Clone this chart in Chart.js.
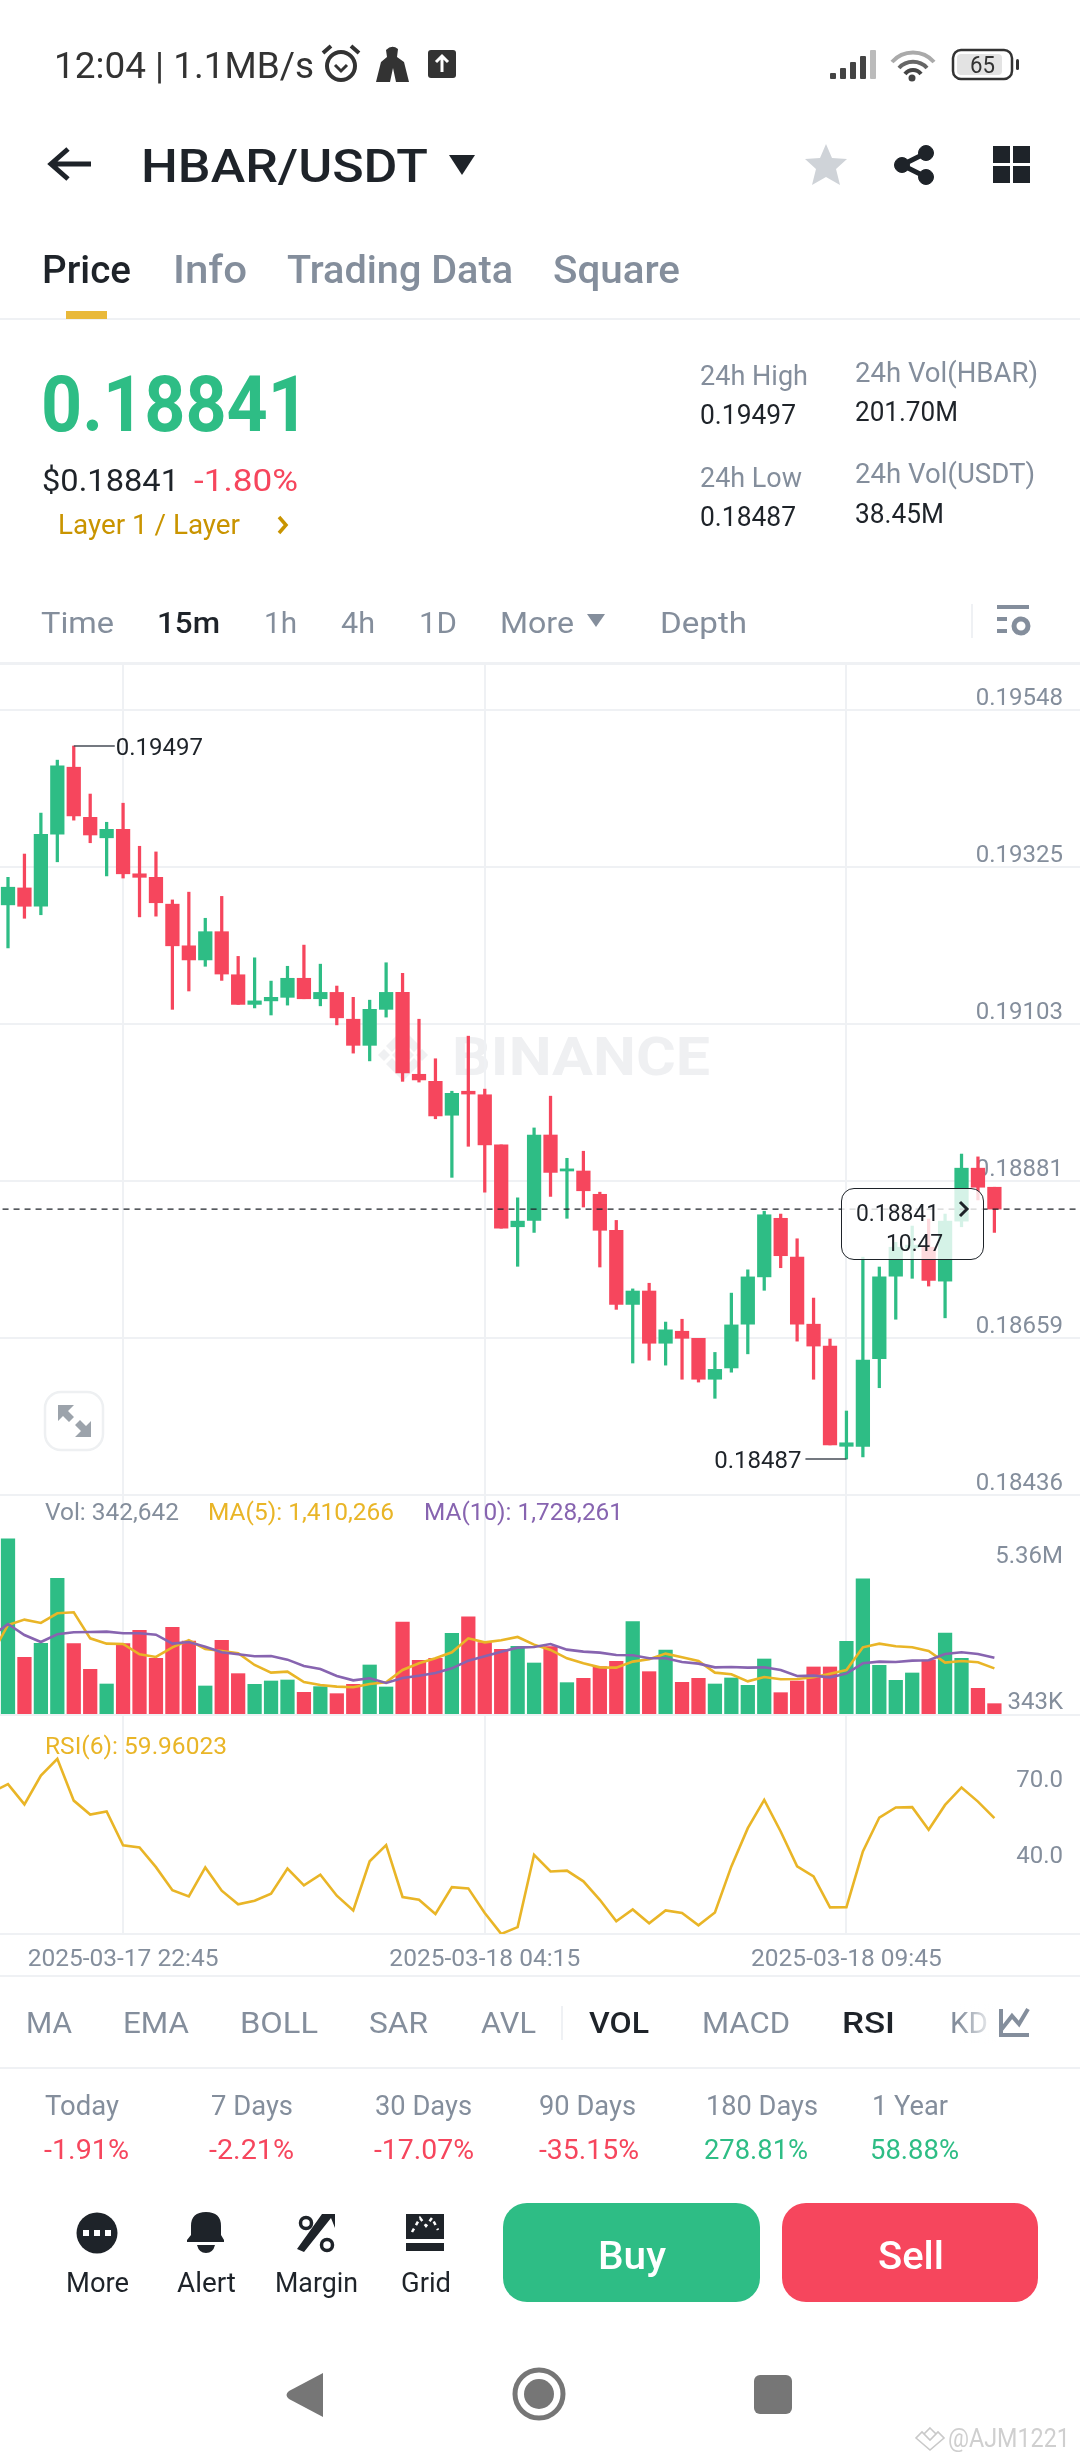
<!DOCTYPE html>
<html>
<head>
<meta charset="utf-8">
<title>HBAR/USDT</title>
<script src="https://cdn.jsdelivr.net/npm/chart.js@4"></script>
<style>
  html, body { margin: 0; padding: 0; background: #fff; }
  #page { position: relative; width: 1080px; height: 2460px; overflow: hidden; font-family: Roboto, sans-serif; }
  canvas { position: absolute; left: 0; z-index: 1; }
  #ui { position: absolute; left: 0; top: 0; z-index: 2; }
  #under { position: absolute; left: 0; top: 0; z-index: 0; }
  .t { position: absolute; white-space: nowrap; line-height: 1; transform-origin: 0 50%; z-index: 3; }
  .under { z-index: 0; }
  #tip { position: absolute; left: 841px; top: 1188px; width: 143px; height: 72px; box-sizing: border-box; z-index: 2;
         border: 1.6px solid #1e2329; border-radius: 13px; background: rgba(255,255,255,0.8); }
</style>
</head>
<body>
<div id="page">
  <svg id="under" width="1080" height="2460">
    <g fill="#eff0f2">
      <polygon points="403,1044 414,1055 403,1066 392,1055"/>
      <polygon points="403,1029 420,1046 414,1052 403,1041 392,1052 386,1046"/>
      <polygon points="403,1081 420,1064 414,1058 403,1069 392,1058 386,1064"/>
      <polygon points="384,1049 390,1055 384,1061 378,1055"/>
      <polygon points="422,1049 428,1055 422,1061 416,1055"/>
    </g>
  </svg>
  <canvas id="priceChart" width="1080" height="833" style="top:664px"></canvas>
  <canvas id="volChart" width="1080" height="220" style="top:1495px"></canvas>
  <canvas id="rsiChart" width="1080" height="261" style="top:1715px"></canvas>
  <div id="tip"></div>
  <svg id="ui" width="1080" height="2460">
    <!-- separators -->
    <g fill="#eff1f4">
      <rect x="0" y="318" width="1080" height="2"/>
      <rect x="0" y="662" width="1080" height="3"/>
      <rect x="0" y="1714" width="1080" height="2"/>
      <rect x="0" y="1975" width="1080" height="2"/>
      <rect x="0" y="2067" width="1080" height="2"/>
      <rect x="971" y="604" width="2" height="34"/>
      <rect x="561" y="2006" width="2" height="34"/>
    </g>
    <!-- status bar -->
    <circle cx="341" cy="66" r="14" fill="none" stroke="#333" stroke-width="4"/>
    <path d="M335 65 L341 71 L347 65" fill="none" stroke="#333" stroke-width="3"/>
    <path d="M323 53 L331 46 M359 53 L351 46" stroke="#333" stroke-width="4"/>
    <path d="M376 82 L381 62 L387 57 L386 50 Q392 44 398 49 L397 57 L404 62 L409 82 L396 82 L393 68 L390 82 Z" fill="#333"/>
    <rect x="428" y="50" width="28" height="28" rx="3" fill="#333"/>
    <path d="M442 72 V57 M436 62 L442 56 L448 62" fill="none" stroke="#fff" stroke-width="3"/>
    <g fill="#444">
      <rect x="830" y="73" width="6" height="6" rx="1"/><rect x="840" y="68" width="6" height="11" rx="1"/>
      <rect x="850" y="62" width="6" height="17" rx="1"/><rect x="860" y="56" width="6" height="23" rx="1"/>
      <rect x="870" y="50" width="6" height="29" rx="1" fill="#bbb"/>
    </g>
    <g fill="none" stroke-width="4">
      <path d="M892 62 A28 28 0 0 1 934 62" stroke="#aaa"/>
      <path d="M899 68 A19 19 0 0 1 927 68" stroke="#666"/>
      <path d="M905 74 A10 10 0 0 1 921 74" stroke="#444"/>
    </g>
    <circle cx="912" cy="78" r="3.5" fill="#444"/>
    <rect x="953" y="50" width="59" height="29" rx="8" fill="none" stroke="#333" stroke-width="2.5"/>
    <rect x="957" y="54" width="45" height="21" rx="4" fill="#e3e3e3"/>
    <rect x="1016" y="59" width="3" height="11" rx="1.5" fill="#333"/>
    <!-- header -->
    <path d="M91 164 H54 M68 149 L51 164 L68 179" fill="none" stroke="#1e2329" stroke-width="5"/>
    <polygon points="449,155 475,155 462,175" fill="#1e2329"/>
    <polygon points="826,144 832,158 847,159 836,169 840,185 826,177 812,185 816,169 805,159 820,158" fill="#cfd3d8"/>
    <g fill="#1e2329" stroke="#1e2329">
      <path d="M926 153 L902 165 L926 177" fill="none" stroke-width="5"/>
      <circle cx="926" cy="153" r="7.5"/><circle cx="902" cy="165" r="7.5"/><circle cx="926" cy="177" r="7.5"/>
    </g>
    <g fill="#1e2329">
      <rect x="993" y="146" width="17" height="17"/><rect x="1013" y="146" width="17" height="17"/>
      <rect x="993" y="166" width="17" height="17"/><rect x="1013" y="166" width="17" height="17"/>
    </g>
    <rect x="66" y="311" width="41" height="8" fill="#e9b93a"/>
    <path d="M279 517 L286 525 L279 533" fill="none" stroke="#c99400" stroke-width="3.5"/>
    <polygon points="587,614 605,614 596,627" fill="#848e9c"/>
    <!-- chart settings icon -->
    <g fill="#848e9c">
      <rect x="997" y="605" width="32" height="4"/><rect x="997" y="617" width="10" height="4"/>
      <rect x="997" y="629" width="10" height="4"/>
    </g>
    <circle cx="1021" cy="626" r="7" fill="none" stroke="#848e9c" stroke-width="5"/>
    <!-- expand button -->
    <rect x="45" y="1392" width="58" height="58" rx="16" fill="#fff" stroke="#eef0f2" stroke-width="2.5"/>
    <g fill="#9ca3ab">
      <polygon points="58,1405 74,1405 68,1411 74,1417 69,1422 63,1416 58,1421"/>
      <polygon points="91,1437 75,1437 81,1431 75,1425 80,1420 86,1426 91,1421"/>
    </g>
    <!-- tooltip chevron -->
    <path d="M960 1202 L967 1209 L960 1216" fill="none" stroke="#1e2329" stroke-width="3"/>
    <!-- indicator row -->
    <path d="M1001 2009 V2035 H1029 M1001 2030 L1012 2016 L1019 2024 L1028 2009" fill="none" stroke="#848e9c" stroke-width="4"/>
    <!-- bottom actions -->
    <ellipse cx="97" cy="2233" rx="20.5" ry="20.5" fill="#1e2329"/>
    <g fill="#fff"><rect x="83" y="2230" width="6" height="6"/><rect x="94" y="2230" width="6" height="6"/><rect x="105" y="2230" width="6" height="6"/></g>
    <path d="M187 2242 V2240 L191 2235 V2226 Q191 2212 206 2212 Q221 2212 221 2226 V2235 L224 2240 V2242 Z M197 2245 H215 Q213 2253 206 2253 Q199 2253 197 2245 Z" fill="#1e2329"/>
    <g fill="none" stroke="#1e2329" stroke-width="3.5">
      <circle cx="306" cy="2223" r="5.5"/><circle cx="327" cy="2245" r="5.5"/>
    </g>
    <polygon points="297,2249 322,2214 335,2214 335,2228 331,2218 304,2252" fill="#1e2329"/>
    <path d="M406 2214 H444 V2239 H406 Z" fill="#1e2329"/>
    <path d="M412 2232 L420 2218 L426 2226 L432 2218 L438 2230" fill="none" stroke="#fff" stroke-width="2.5" stroke-dasharray="4 4"/>
    <rect x="406" y="2243" width="38" height="8" fill="#1e2329"/>
    <rect x="503" y="2203" width="257" height="99" rx="24" fill="#2ebd85"/>
    <rect x="782" y="2203" width="256" height="99" rx="24" fill="#f6465d"/>
    <!-- nav bar -->
    <path d="M323 2373 V2417 L289 2399 Q284 2395 289 2391 Z" fill="#767676"/>
    <circle cx="539" cy="2394" r="24" fill="none" stroke="#767676" stroke-width="5"/>
    <circle cx="539" cy="2394" r="15" fill="#767676"/>
    <rect x="754" y="2375" width="38" height="39" rx="6" fill="#767676"/>
    <path d="M916 2438 L930 2450 L944 2438 L938 2432 L930 2440 L922 2432 Z M930 2428 L936 2434 L930 2440 L924 2434 Z" fill="none" stroke="#c9c9c9" stroke-width="1.6"/>
  </svg>
</div>

<script>
// 15m candles, oldest first
const candleOpen = [
  0.19272, 0.19296, 0.19270, 0.19372, 0.19467, 0.19396, 0.19367, 0.19379, 0.19316, 0.19311,
  0.19273, 0.19214, 0.19194, 0.19234, 0.19173, 0.19131, 0.19136, 0.19141, 0.19168, 0.19139,
  0.19148, 0.19110, 0.19073, 0.19124, 0.19148, 0.19032, 0.19022, 0.18974, 0.19008, 0.19003,
  0.18932, 0.18816, 0.18825, 0.18946, 0.18895, 0.18895, 0.18862, 0.18811, 0.18706, 0.18725,
  0.18651, 0.18668, 0.18658, 0.18600, 0.18616, 0.18678, 0.18745, 0.18828, 0.18773, 0.18678,
  0.18647, 0.18505, 0.18505, 0.18629, 0.18746, 0.18786, 0.18787, 0.18739, 0.18824, 0.18899,
  0.18872,
];
const candleHigh = [
  0.19311, 0.19344, 0.19402, 0.19477, 0.19497, 0.19429, 0.19389, 0.19416, 0.19355, 0.19347,
  0.19279, 0.19290, 0.19253, 0.19284, 0.19199, 0.19197, 0.19164, 0.19185, 0.19215, 0.19188,
  0.19157, 0.19141, 0.19137, 0.19190, 0.19175, 0.19110, 0.19054, 0.19008, 0.19086, 0.19011,
  0.18932, 0.18857, 0.18956, 0.19001, 0.18913, 0.18923, 0.18865, 0.18825, 0.18728, 0.18736,
  0.18681, 0.18685, 0.18658, 0.18638, 0.18722, 0.18755, 0.18838, 0.18834, 0.18799, 0.18715,
  0.18657, 0.18555, 0.18773, 0.18759, 0.18794, 0.18817, 0.18827, 0.18834, 0.18919, 0.18915,
  0.18872,
];
const candleLow = [
  0.19211, 0.19253, 0.19258, 0.19333, 0.19392, 0.19360, 0.19313, 0.19310, 0.19255, 0.19256,
  0.19124, 0.19150, 0.19185, 0.19165, 0.19131, 0.19126, 0.19116, 0.19130, 0.19139, 0.19129,
  0.19102, 0.19062, 0.19051, 0.19113, 0.19022, 0.19021, 0.18969, 0.18886, 0.18930, 0.18865,
  0.18814, 0.18760, 0.18808, 0.18859, 0.18828, 0.18844, 0.18759, 0.18699, 0.18623, 0.18627,
  0.18620, 0.18600, 0.18596, 0.18573, 0.18610, 0.18636, 0.18726, 0.18758, 0.18654, 0.18600,
  0.18507, 0.18487, 0.18490, 0.18588, 0.18685, 0.18743, 0.18732, 0.18687, 0.18816, 0.18854,
  0.18808,
];
const candleClose = [
  0.19297, 0.19270, 0.19372, 0.19469, 0.19398, 0.19371, 0.19379, 0.19316, 0.19311, 0.19275,
  0.19214, 0.19194, 0.19234, 0.19174, 0.19131, 0.19136, 0.19141, 0.19168, 0.19139, 0.19148,
  0.19112, 0.19073, 0.19124, 0.19148, 0.19034, 0.19024, 0.18973, 0.19005, 0.19004, 0.18932,
  0.18814, 0.18824, 0.18946, 0.18893, 0.18898, 0.18867, 0.18811, 0.18706, 0.18725, 0.18651,
  0.18670, 0.18658, 0.18600, 0.18614, 0.18677, 0.18745, 0.18833, 0.18775, 0.18678, 0.18647,
  0.18507, 0.18510, 0.18627, 0.18745, 0.18787, 0.18790, 0.18740, 0.18824, 0.18899, 0.18872,
  0.18841,
];
const volumes = [
  5322000, 1744000, 2167000, 4133000, 2157000, 1381000, 937000, 2157000, 2560000, 1714000,
  2651000, 2238000, 877000, 2258000, 1250000, 927000, 1028000, 1058000, 685000, 857000,
  645000, 927000, 1512000, 847000, 2812000, 1653000, 1714000, 2470000, 2964000, 2187000,
  1986000, 2076000, 1572000, 2066000, 978000, 1109000, 1462000, 1623000, 2822000, 1310000,
  1966000, 988000, 1109000, 937000, 1119000, 897000, 1693000, 675000, 1028000, 1452000,
  1452000, 2228000, 4113000, 1502000, 1048000, 1270000, 1663000, 2480000, 1714000, 806000,
  342642,
];
// the three lines below start one candle earlier, just off the left edge
const ma5 = [
  1824000, 2722000, 2883000, 2782000, 3074000, 3105000, 2318000, 2157000, 2147000, 1835000, 1754000,
  2046000, 2258000, 1996000, 1935000, 1865000, 1512000, 1280000, 1310000, 998000, 907000,
  857000, 837000, 937000, 988000, 1361000, 1562000, 1714000, 1895000, 2318000, 2197000,
  2258000, 2359000, 2127000, 1966000, 1714000, 1562000, 1441000, 1431000, 1613000, 1683000,
  1855000, 1744000, 1633000, 1280000, 1230000, 1018000, 1149000, 1079000, 1089000, 1139000,
  1250000, 1361000, 2046000, 2157000, 2076000, 2046000, 1935000, 1583000, 1633000, 1593000,
  1410266,
];
const ma10 = [
  2389000, 2752000, 2419000, 2208000, 2439000, 2500000, 2510000, 2520000, 2470000, 2470000, 2429000,
  2157000, 2208000, 2066000, 1895000, 1835000, 1774000, 1784000, 1673000, 1482000, 1391000,
  1179000, 1048000, 1109000, 968000, 1119000, 1189000, 1270000, 1411000, 1643000, 1774000,
  1915000, 2036000, 2056000, 2147000, 1976000, 1915000, 1885000, 1814000, 1804000, 1714000,
  1714000, 1603000, 1552000, 1441000, 1452000, 1431000, 1441000, 1361000, 1179000, 1189000,
  1139000, 1250000, 1562000, 1613000, 1603000, 1643000, 1653000, 1845000, 1895000, 1845000,
  1728261,
];
const rsi6 = [
  70.2, 73.4, 65.4, 76.8, 83.4, 66.9, 61.4, 62.6, 49.2, 48.4, 40.6,
  31.5, 29.0, 40.5, 31.3, 25.9, 27.3, 30.1, 40.0, 33.4, 37.6,
  29.3, 23.5, 42.9, 49.3, 28.8, 27.7, 22.1, 32.7, 32.2, 22.5,
  14.2, 16.9, 45.5, 38.9, 39.2, 35.0, 27.7, 19.2, 23.9, 18.4,
  23.5, 22.5, 17.6, 22.7, 40.9, 56.0, 67.2, 54.7, 40.9, 36.9,
  24.7, 24.8, 46.8, 60.2, 64.2, 64.3, 55.4, 65.2, 72.1, 66.5,
  59.96,
];

const priceTicks = [0.19548, 0.19325, 0.19103, 0.18881, 0.18659, 0.18436];
const rsiTicks = [70, 40];
const volTopTick = 5360000;
const volTopLabel = "5.36M";
const volBottomTick = 342642;
const volBottomLabel = "343K";
const timeTicks = [7, 29, 51];
const timeLabels = ["2025-03-17 22:45", "2025-03-18 04:15", "2025-03-18 09:45"];
const lastPrice = 0.18841;

const GREEN = "#2EBD85";
const RED = "#F6465D";
const GREY = "#848E9C";
const DARK = "#1E2329";
const YELLOW = "#E9B527";
const PURPLE = "#8764B0";
const GRID = "#EFF1F4";
const AXIS_FONT = { family: "Roboto", size: 24 };

// candle 0 sits 8px from the left edge, 16.44px per candle
const xMin = -8 / 16.44;
const xMax = (1080 - 8) / 16.44;

function isUp(i) {
  return candleClose[i] >= candleOpen[i];
}

function candleColors() {
  return candleOpen.map((v, i) => (isUp(i) ? GREEN : RED));
}

function xScale(extra) {
  return Object.assign(
    {
      type: "linear",
      min: xMin,
      max: xMax,
      offset: false,
      grid: { color: GRID, lineWidth: 2, drawTicks: false, offset: false },
      border: { display: false },
      ticks: { display: false },
      afterBuildTicks: (scale) => {
        scale.ticks = timeTicks.map((value) => ({ value }));
      },
    },
    extra,
  );
}

// ticks sit on the right edge, inside the plot
function insideTicks(callback, labelOffset) {
  return {
    mirror: true,
    padding: -17,
    color: GREY,
    font: AXIS_FONT,
    labelOffset,
    callback,
  };
}

// dark callout lines at the highest and lowest price
const extremesPlugin = {
  id: "extremes",
  afterDatasetsDraw(chart) {
    const { ctx, scales } = chart;
    const hi = candleHigh.indexOf(Math.max(...candleHigh));
    const lo = candleLow.indexOf(Math.min(...candleLow));
    const hx = scales.x.getPixelForValue(hi);
    const hy = scales.y.getPixelForValue(candleHigh[hi]);
    const lx = scales.x.getPixelForValue(lo);
    const ly = scales.y.getPixelForValue(candleLow[lo]);
    ctx.save();
    ctx.strokeStyle = "#474D57";
    ctx.lineWidth = 1.5;
    ctx.beginPath();
    ctx.moveTo(hx, hy);
    ctx.lineTo(hx + 41, hy);
    ctx.moveTo(lx, ly);
    ctx.lineTo(lx - 41, ly);
    ctx.stroke();
    ctx.fillStyle = DARK;
    ctx.font = "24px Roboto";
    ctx.textBaseline = "middle";
    ctx.textAlign = "left";
    ctx.fillText(candleHigh[hi].toFixed(5), hx + 42, hy + 3);
    ctx.textAlign = "right";
    ctx.fillText(candleLow[lo].toFixed(5), lx - 45, ly + 3);
    ctx.restore();
  },
};

const baseOptions = {
  responsive: false,
  animation: false,
  devicePixelRatio: 1,
  layout: { padding: 0 },
  plugins: { legend: { display: false }, tooltip: { enabled: false } },
};

new Chart(document.getElementById("priceChart"), {
  type: "bar",
  data: {
    datasets: [
      {
        type: "line",
        order: 0,
        data: [
          { x: -1, y: lastPrice },
          { x: 66, y: lastPrice },
        ],
        borderColor: DARK,
        borderWidth: 1.4,
        borderDash: [6, 5],
        pointRadius: 0,
      },
      {
        order: 1,
        grouped: false,
        data: candleOpen.map((o, i) => ({ x: i, y: [o, candleClose[i]] })),
        backgroundColor: candleColors(),
        barPercentage: 1,
        categoryPercentage: 1,
        maxBarThickness: 13.6,
      },
      {
        order: 2,
        grouped: false,
        data: candleHigh.map((h, i) => ({ x: i, y: [candleLow[i], h] })),
        backgroundColor: candleColors(),
        barPercentage: 1,
        categoryPercentage: 1,
        maxBarThickness: 2.6,
      },
    ],
  },
  options: {
    ...baseOptions,
    scales: {
      x: xScale(),
      y: {
        position: "right",
        min: 0.184332,
        max: 0.196132,
        grid: { color: GRID, lineWidth: 2, drawTicks: false },
        border: { display: false },
        ticks: insideTicks((v) => v.toFixed(5), -11),
        afterBuildTicks: (scale) => {
          scale.ticks = priceTicks.map((value) => ({ value }));
        },
      },
    },
  },
  plugins: [extremesPlugin],
});

new Chart(document.getElementById("volChart"), {
  type: "bar",
  data: {
    datasets: [
      {
        type: "line",
        order: 0,
        data: ma10.map((v, i) => ({ x: i - 1, y: v })),
        borderColor: PURPLE,
        borderWidth: 2.6,
        pointRadius: 0,
      },
      {
        type: "line",
        order: 1,
        data: ma5.map((v, i) => ({ x: i - 1, y: v })),
        borderColor: YELLOW,
        borderWidth: 2.6,
        pointRadius: 0,
      },
      {
        order: 2,
        grouped: false,
        data: volumes.map((v, i) => ({ x: i, y: v })),
        backgroundColor: candleColors(),
        barPercentage: 1,
        categoryPercentage: 1,
        maxBarThickness: 13.6,
      },
    ],
  },
  options: {
    ...baseOptions,
    scales: {
      x: xScale(),
      y: {
        position: "right",
        min: 0,
        max: 6650600,
        grid: { display: false },
        border: { display: false },
        ticks: insideTicks(() => volTopLabel, 19),
        afterFit: (scale) => {
          scale.width = 0;
        },
        afterBuildTicks: (scale) => {
          scale.ticks = [{ value: volTopTick }];
        },
      },
      // second axis only so that 343K can sit above its level and 5.36M below
      yLow: {
        position: "right",
        min: 0,
        max: 6650600,
        grid: { display: false },
        border: { display: false },
        ticks: insideTicks(() => volBottomLabel, -1),
        afterFit: (scale) => {
          scale.width = 0;
        },
        afterBuildTicks: (scale) => {
          scale.ticks = [{ value: volBottomTick }];
        },
      },
    },
  },
});

new Chart(document.getElementById("rsiChart"), {
  type: "line",
  data: {
    datasets: [
      {
        data: rsi6.map((v, i) => ({ x: i - 1, y: v })),
        borderColor: YELLOW,
        borderWidth: 2.6,
        pointRadius: 0,
      },
    ],
  },
  options: {
    ...baseOptions,
    scales: {
      x: xScale({
        border: { display: true, color: GRID, width: 2 },
        ticks: {
          display: true,
          autoSkip: false,
          maxRotation: 0,
          padding: 11,
          color: GREY,
          font: { family: "Roboto", size: 24.5 },
          callback: (v) => timeLabels[timeTicks.indexOf(v)],
        },
        afterFit: (scale) => {
          scale.height = 42;
        },
      }),
      y: {
        position: "right",
        min: 14.17,
        max: 100.74,
        grid: { display: false },
        border: { display: false },
        ticks: insideTicks((v) => v.toFixed(1), -12),
        afterBuildTicks: (scale) => {
          scale.ticks = rsiTicks.map((value) => ({ value }));
        },
      },
    },
  },
});

// page text: text, left, right, vertical centre, font size, colour, weight
const page = document.getElementById("page");

function put(text, x0, x1, y, size, color, weight, cls) {
  const div = document.createElement("div");
  div.className = "t " + (cls || "");
  div.textContent = text;
  div.style.left = x0 + "px";
  div.style.top = y - size / 2 + "px";
  div.style.fontSize = size + "px";
  div.style.color = color;
  div.style.fontWeight = weight || 400;
  page.appendChild(div);
  // squeeze to the width measured on the picture
  div.style.transform = `scaleX(${(x1 - x0) / div.getBoundingClientRect().width})`;
}

const PAGE_TEXT = [
  ["12:04 | 1.1MB/s", 54, 314, 65, 37, "#333"],
  ["65", 970, 995, 65, 23, "#333"],
  ["HBAR/USDT", 141, 428, 165, 47, DARK, 500],
  ["Price", 42, 131, 270, 38, DARK, 500],
  ["Info", 173, 247, 270, 38, GREY, 500],
  ["Trading Data", 287, 513, 270, 38, GREY, 500],
  ["Square", 553, 680, 270, 38, GREY, 500],
  ["0.18841", 41, 309, 405, 77, GREEN, 700],
  ["$0.18841", 42, 179, 480, 32, DARK],
  ["-1.80%", 194, 298, 480, 32, RED],
  ["Layer 1 / Layer", 58, 240, 525, 28, "#C99400"],
  ["24h High", 700, 808, 376, 28, GREY],
  ["0.19497", 700, 796, 415, 27, DARK],
  ["24h Low", 700, 802, 478, 28, GREY],
  ["0.18487", 700, 796, 517, 27, DARK],
  ["24h Vol(HBAR)", 855, 1038, 373, 28, GREY],
  ["201.70M", 855, 958, 412, 27, DARK],
  ["24h Vol(USDT)", 855, 1035, 474, 28, GREY],
  ["38.45M", 855, 944, 514, 27, DARK],
  ["Time", 41, 114, 623, 30, GREY],
  ["15m", 157, 220, 623, 30, DARK, 500],
  ["1h", 264, 297, 623, 30, GREY],
  ["4h", 341, 375, 623, 30, GREY],
  ["1D", 419, 457, 623, 30, GREY],
  ["More", 500, 574, 623, 30, GREY],
  ["Depth", 660, 747, 623, 30, GREY],
  ["0.18841", 856, 939, 1213, 24, DARK],
  ["10:47", 886, 943, 1243, 24, DARK],
  ["Vol: 342,642", 45, 179, 1512, 23, GREY],
  ["MA(5): 1,410,266", 208, 394, 1512, 23, YELLOW],
  ["MA(10): 1,728,261", 424, 623, 1512, 23, PURPLE],
  ["RSI(6): 59.96023", 45, 227, 1746, 23, YELLOW],
  ["MA", 26, 72, 2023, 30, GREY],
  ["EMA", 123, 189, 2023, 30, GREY],
  ["BOLL", 240, 318, 2023, 30, GREY],
  ["SAR", 369, 428, 2023, 30, GREY],
  ["AVL", 481, 536, 2023, 30, GREY],
  ["VOL", 589, 649, 2023, 30, DARK, 500],
  ["MACD", 702, 790, 2023, 30, GREY],
  ["RSI", 842, 895, 2023, 30, DARK, 500],
  ["KD", 950, 988, 2023, 30, GREY],
  ["Today", 45, 119, 2106, 28, GREY],
  ["7 Days", 211, 293, 2106, 28, GREY],
  ["30 Days", 375, 472, 2106, 28, GREY],
  ["90 Days", 539, 636, 2106, 28, GREY],
  ["180 Days", 706, 818, 2106, 28, GREY],
  ["1 Year", 872, 948, 2106, 28, GREY],
  ["-1.91%", 44, 129, 2150, 28, RED],
  ["-2.21%", 209, 294, 2150, 28, RED],
  ["-17.07%", 374, 474, 2150, 28, RED],
  ["-35.15%", 539, 639, 2150, 28, RED],
  ["278.81%", 704, 808, 2150, 28, GREEN],
  ["58.88%", 870, 959, 2150, 28, GREEN],
  ["More", 66, 129, 2283, 28, DARK],
  ["Alert", 177, 236, 2283, 28, DARK],
  ["Margin", 275, 358, 2283, 28, DARK],
  ["Grid", 401, 451, 2283, 28, DARK],
  ["Buy", 598, 666, 2256, 38, "#fff", 500],
  ["Sell", 878, 944, 2256, 38, "#fff", 500],
  ["@AJM1221", 948, 1070, 2438, 26, "#cfcfcf"],
];
PAGE_TEXT.forEach((row) => put(...row));
put("BINANCE", 452, 710, 1057, 54, "#eff0f2", 700, "under");

// KD runs out under a white fade, as on the scrolling tab strip
const fade = document.createElement("div");
fade.style.cssText = "position:absolute;left:958px;top:2004px;width:38px;height:40px;z-index:4;" +
  "background:linear-gradient(to right,rgba(255,255,255,0),#fff)";
page.appendChild(fade);
</script>
</body>
</html>
